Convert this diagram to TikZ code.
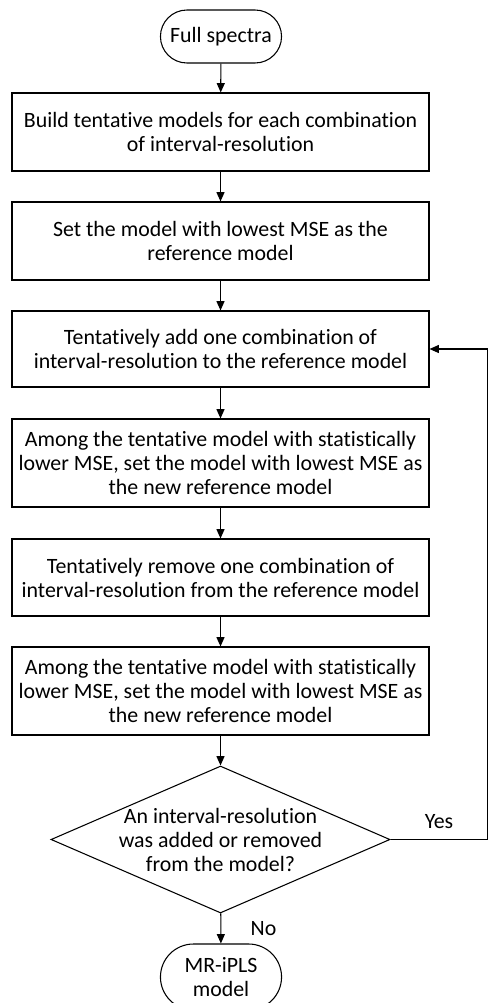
\documentclass[tikz,border=0pt]{standalone}
\usepackage{fontspec}
\setmainfont{Carlito}[RawFeature={-liga;-clig;-calt;-dlig}]
\usetikzlibrary{arrows.meta,shapes.geometric,shapes.misc}
\tikzstyle{stepbox}=[rectangle,draw,line width=0.8pt,minimum width=312.75pt,inner sep=2pt,align=center]
\tikzstyle{terminal}=[rounded rectangle,draw,line width=0.8pt,minimum width=97.5pt,align=center]
\tikzstyle{decision}=[diamond,draw,line width=0.8pt,aspect=2.3,minimum width=254.25pt,minimum height=110.25pt,inner sep=0pt]
\tikzstyle{edge} = [draw,line width=0.8pt,-{Triangle[length=7pt,width=6pt]}]
\tikzstyle{line} = [draw,line width=0.8pt]
\tikzstyle{answer} = [inner sep=1pt]

\begin{document}
\begin{tikzpicture}[x=0.75pt,y=-0.75pt,font=\fontsize{16.4}{18}\selectfont]
    \useasboundingbox (0,0) rectangle (488,1003);
    % Start and end of the flow
    \node[terminal, minimum height=39.75pt] (start) at (221,36.5) {Full spectra};
    \node[terminal, minimum height=49.5pt] (stop) at (221,977) {MR-iPLS\\model};
    % The steps, top to bottom
    \foreach \pos/\name/\boxh/\txt in {
        {(220.5,132)/b1/58.5/{Build tentative models for each combination\\of interval-resolution}},
        {(220.5,241)/b2/58.5/{Set the model with lowest MSE as the\\reference model}},
        {(220.5,349)/b3/57/{Tentatively add one combination of\\interval-resolution to the reference model}},
        {(220.5,463)/b4/66/{Among the tentative model with statistically\\lower MSE, set the model with lowest MSE as\\the new reference model}},
        {(220.5,577.5)/b5/57.75/{Tentatively remove one combination of\\interval-resolution from the reference model}},
        {(220.5,691)/b6/66/{Among the tentative model with statistically\\lower MSE, set the model with lowest MSE as\\the new reference model}}}
        \node[stepbox, minimum height=\boxh pt] (\name) at \pos {\txt};
    % The test
    \node[decision] (dec) at (220.5,839.5) {};
    \node[align=center] (dectext) at (dec) {An interval-resolution\\was added or removed\\from the model?};
    % Connect the steps
    \foreach \source/\dest in {start/b1, b1/b2, b2/b3, b3/b4, b4/b5, b5/b6, b6/dec}
        \path[edge] (\source) -- (\dest);
    \path[edge] (dec) -- node[answer, right, xshift=21pt] (nolbl) {No} (stop);
    % Loop back when something changed
    \coordinate (loopA) at (487.5,839.5);
    \coordinate (loopB) at (487.5,349);
    \path[line] (dec.east) -- node[answer, above, yshift=7pt] (yeslbl) {Yes} (loopA) -- (loopB);
    \path[edge] (loopB) -- (b3.east);
\end{tikzpicture}
\end{document}
